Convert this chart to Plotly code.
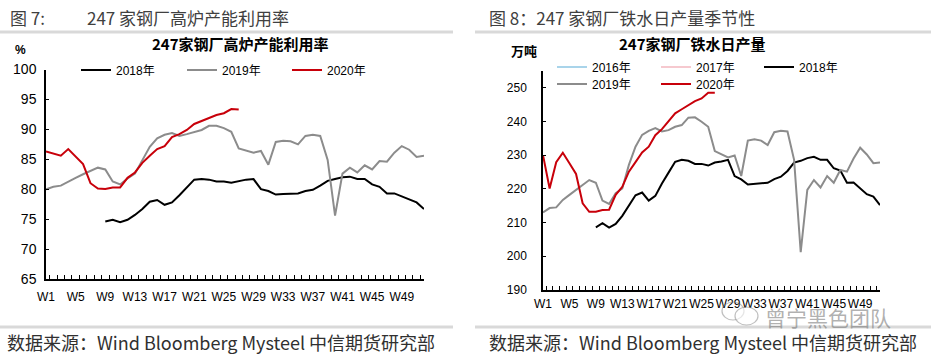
import plotly.graph_objects as go

W, H = 931, 355

weeks = [f"W{i}" for i in range(1, 53)]
week_ticktext = [w if i % 4 == 0 else "" for i, w in enumerate(weeks)]

# Left chart: blast furnace capacity utilisation (%)
util_2018 = [None] * 8 + [74.6, 74.9, 74.5, 74.9, 75.7, 76.7, 77.9, 78.2, 77.4, 77.8, 79.0, 80.3,
                          81.6, 81.7, 81.6, 81.3, 81.3, 81.1, 81.4, 81.6, 81.7, 80.0, 79.7, 79.1,
                          79.2, 79.2, 79.3, 79.7, 79.9, 80.6, 81.4, 81.7, 82.0, 82.1, 81.7, 81.7,
                          80.8, 80.4, 79.3, 79.3, 78.8, 78.2, 77.8, 76.7]
util_2019 = [80.0, 80.4, 80.6, 81.3, 81.9, 82.5, 83.1, 83.6, 83.3, 81.3, 80.8, 81.8, 82.6,
             84.9, 87.1, 88.5, 89.1, 89.4, 88.9, 89.2, 89.6, 89.9, 90.6, 90.6, 90.2, 89.6,
             86.8, 86.4, 86.1, 86.4, 84.1, 87.9, 88.1, 88.0, 87.5, 88.9, 89.1, 88.9, 84.9,
             75.6, 82.6, 83.6, 82.8, 84.0, 83.3, 84.7, 84.6, 86.1, 87.2, 86.6, 85.4, 85.6]
util_2020 = [86.3, 86.0, 85.6, 86.7, 85.4, 84.2, 81.0, 80.1, 80.05, 80.3, 80.3, 81.9, 82.8,
             84.4, 85.6, 86.7, 87.2, 88.7, 89.2, 89.9, 90.9, 91.4, 91.9, 92.4, 92.7, 93.4,
             93.3] + [None] * 25

# Right chart: daily hot metal output (10k tonnes)
hm_2016 = [None] * 52
hm_2017 = [None] * 52
hm_2018 = [None] * 8 + [208.6, 209.8, 208.5, 209.6, 212.0, 215.0, 218.1, 218.9, 216.5, 217.9,
                        221.6, 224.8, 228.0, 228.6, 228.3, 227.4, 227.4, 226.9, 227.8, 228.1,
                        228.6, 223.8, 222.8, 221.3, 221.4, 221.6, 221.8, 222.9, 223.6, 225.3,
                        227.8, 228.3, 229.1, 229.5, 228.6, 228.6, 226.1, 225.4, 221.8, 221.9,
                        220.1, 218.4, 217.7, 215.2]
hm_2019 = [213.0, 214.3, 214.5, 216.7, 218.2, 219.7, 221.3, 222.6, 221.8, 216.5, 215.5, 218.7,
           220.1, 227.1, 232.5, 236.0, 237.2, 238.0, 237.0, 237.4, 238.4, 238.9, 241.1, 241.2,
           239.9, 238.4, 231.2, 230.2, 229.3, 229.9, 223.8, 234.3, 234.7, 234.3, 233.0, 236.8,
           237.2, 237.0, 228.6, 201.2, 219.7, 222.6, 220.4, 223.8, 221.8, 225.6, 225.1, 229.0,
           232.2, 230.2, 227.6, 227.8]
hm_2020 = [230.0, 220.1, 227.9, 230.7, 227.6, 224.4, 215.7, 213.2, 213.2, 213.7, 213.8, 218.2,
           220.6, 225.1, 227.9, 230.8, 232.5, 235.9, 237.7, 239.9, 242.4, 243.6, 244.9, 246.0,
           246.8, 248.5, 248.5] + [None] * 25

left_ticks = [65, 70, 75, 80, 85, 90, 95, 100]
right_ticks = [190, 200, 210, 220, 230, 240, 250]

C_BLACK = "#000000"
C_GRAY = "#8c8c8c"
C_RED = "#c8000a"
C_BLUE = "#a9d4ea"
C_PINK = "#f6c9cf"

FONT = "Liberation Sans, Arial, Noto Sans CJK SC, sans-serif"
CJK = "Noto Sans CJK SC, Liberation Sans, sans-serif"


def px(x):
    return x / W


def py(y):
    return 1 - y / H


fig = go.Figure()

left_series = [("2018年", util_2018, C_BLACK, "legend"),
               ("2019年", util_2019, C_GRAY, "legend2"),
               ("2020年", util_2020, C_RED, "legend3")]
for name, vals, col, lg in left_series:
    fig.add_trace(go.Scatter(x=weeks, y=vals, name=name, mode="lines",
                             line=dict(color=col, width=2), xaxis="x", yaxis="y",
                             legend=lg, connectgaps=False))

right_series = [("2016年", hm_2016, C_BLUE, "legend4"),
                ("2017年", hm_2017, C_PINK, "legend5"),
                ("2018年", hm_2018, C_BLACK, "legend6"),
                ("2019年", hm_2019, C_GRAY, "legend7"),
                ("2020年", hm_2020, C_RED, "legend8")]
for name, vals, col, lg in right_series:
    fig.add_trace(go.Scatter(x=weeks, y=vals, name=name, mode="lines",
                             line=dict(color=col, width=2), xaxis="x2", yaxis="y2",
                             legend=lg, connectgaps=False))

xcommon = dict(type="category", categoryorder="array", categoryarray=weeks,
               tickmode="array", tickvals=weeks, ticktext=week_ticktext,
               tickson="boundaries", ticks="inside", ticklen=4, tickwidth=1,
               tickcolor="#000", showline=True, linecolor="#000", linewidth=1.5,
               showgrid=False, zeroline=False, tickangle=0, automargin=False,
               tickfont=dict(family=FONT, size=12, color="#000"))

legend_base = dict(orientation="h", xanchor="left", yanchor="middle",
                   bgcolor="rgba(0,0,0,0)", font=dict(family=FONT, size=12, color="#000"),
                   itemwidth=30, borderwidth=0, tracegroupgap=0)

legend_pos = {
    "legend": (76, 70), "legend2": (182, 70), "legend3": (287, 70),
    "legend4": (552, 67), "legend5": (656, 67), "legend6": (759, 67),
    "legend7": (552, 84), "legend8": (656, 84),
}
legends = {k: dict(legend_base, x=px(v[0]), y=py(v[1])) for k, v in legend_pos.items()}

fig.update_layout(
    width=W, height=H, margin=dict(l=0, r=0, t=0, b=0, pad=0, autoexpand=False),
    paper_bgcolor="white", plot_bgcolor="white", showlegend=True,
    xaxis=dict(xcommon, domain=[px(46), px(424)], anchor="y", ticklabelstandoff=6),
    yaxis=dict(domain=[py(279), py(69.5)], range=[65, 100], tickvals=left_ticks,
               ticks="inside", ticklen=3, tickcolor="#000", showline=True, linecolor="#000",
               linewidth=1.5, showgrid=False, zeroline=False, anchor="x", automargin=False,
               ticklabelstandoff=5,
               tickfont=dict(family=FONT, size=14, color="#000")),
    xaxis2=dict(xcommon, domain=[px(543), px(880)], anchor="y2", ticklabelstandoff=2),
    yaxis2=dict(domain=[py(290), py(70.8)], range=[190, 255], tickvals=right_ticks,
                ticks="inside", ticklen=3, tickcolor="#000", showline=True, linecolor="#000",
                linewidth=1.5, showgrid=False, zeroline=False, anchor="x2", automargin=False,
                ticklabelstandoff=12,
                tickfont=dict(family=FONT, size=12, color="#000")),
    **legends,
)

annotations = [
    dict(x=px(8), y=py(17), text="图 7:", font=dict(family=CJK, size=17, color="#404040")),
    dict(x=px(85), y=py(17), text="247 家钢厂高炉产能利用率", font=dict(family=CJK, size=17, color="#404040")),
    dict(x=px(487), y=py(17), text="图 8：247 家钢厂铁水日产量季节性", font=dict(family=CJK, size=17, color="#404040")),
    dict(x=px(241), y=py(43), text="<b>247家钢厂高炉产能利用率</b>", xanchor="center",
         font=dict(family=CJK, size=15, color="#000")),
    dict(x=px(692), y=py(43), text="<b>247家钢厂铁水日产量</b>", xanchor="center",
         font=dict(family=CJK, size=15, color="#000")),
    dict(x=px(13), y=py(50), text="<b>%</b>", font=dict(family=FONT, size=12, color="#000")),
    dict(x=px(509), y=py(50), text="<b>万吨</b>", font=dict(family=CJK, size=13, color="#000")),
    dict(x=px(5), y=py(342), text="数据来源：Wind Bloomberg Mysteel 中信期货研究部",
         font=dict(family=CJK, size=18, color="#303030")),
    dict(x=px(487), y=py(342), text="数据来源：Wind Bloomberg Mysteel 中信期货研究部",
         font=dict(family=CJK, size=18, color="#303030")),
    dict(x=px(763), y=py(317), text="曾宁黑色团队",
         font=dict(family=CJK, size=21, color="rgba(110,110,110,0.55)")),
]
for a in annotations:
    a.setdefault("xanchor", "left")
    a.update(xref="paper", yref="paper", yanchor="middle", showarrow=False)
fig.update_layout(annotations=annotations)

shapes = [
    dict(type="line", x0=0, x1=px(453), y0=py(32), y1=py(32), line=dict(color="#d9d9d9", width=3)),
    dict(type="line", x0=px(475), x1=1, y0=py(32), y1=py(32), line=dict(color="#d9d9d9", width=3)),
    dict(type="line", x0=0, x1=px(453), y0=py(327), y1=py(327), line=dict(color="#d9d9d9", width=3)),
    dict(type="line", x0=px(475), x1=1, y0=py(327), y1=py(327), line=dict(color="#d9d9d9", width=3)),
    dict(type="circle", x0=px(722), x1=px(744), y0=py(320), y1=py(302),
         line=dict(color="rgba(130,130,130,0.5)", width=1.2)),
    dict(type="circle", x0=px(735), x1=px(758), y0=py(325), y1=py(307),
         line=dict(color="rgba(130,130,130,0.5)", width=1.2), fillcolor="rgba(255,255,255,0.6)"),
]
for s in shapes:
    s.update(xref="paper", yref="paper")
fig.update_layout(shapes=shapes)

fig.write_html("out.html", config={"displayModeBar": False},
               post_script="document.body.style.margin='0';document.body.style.padding='0';")
